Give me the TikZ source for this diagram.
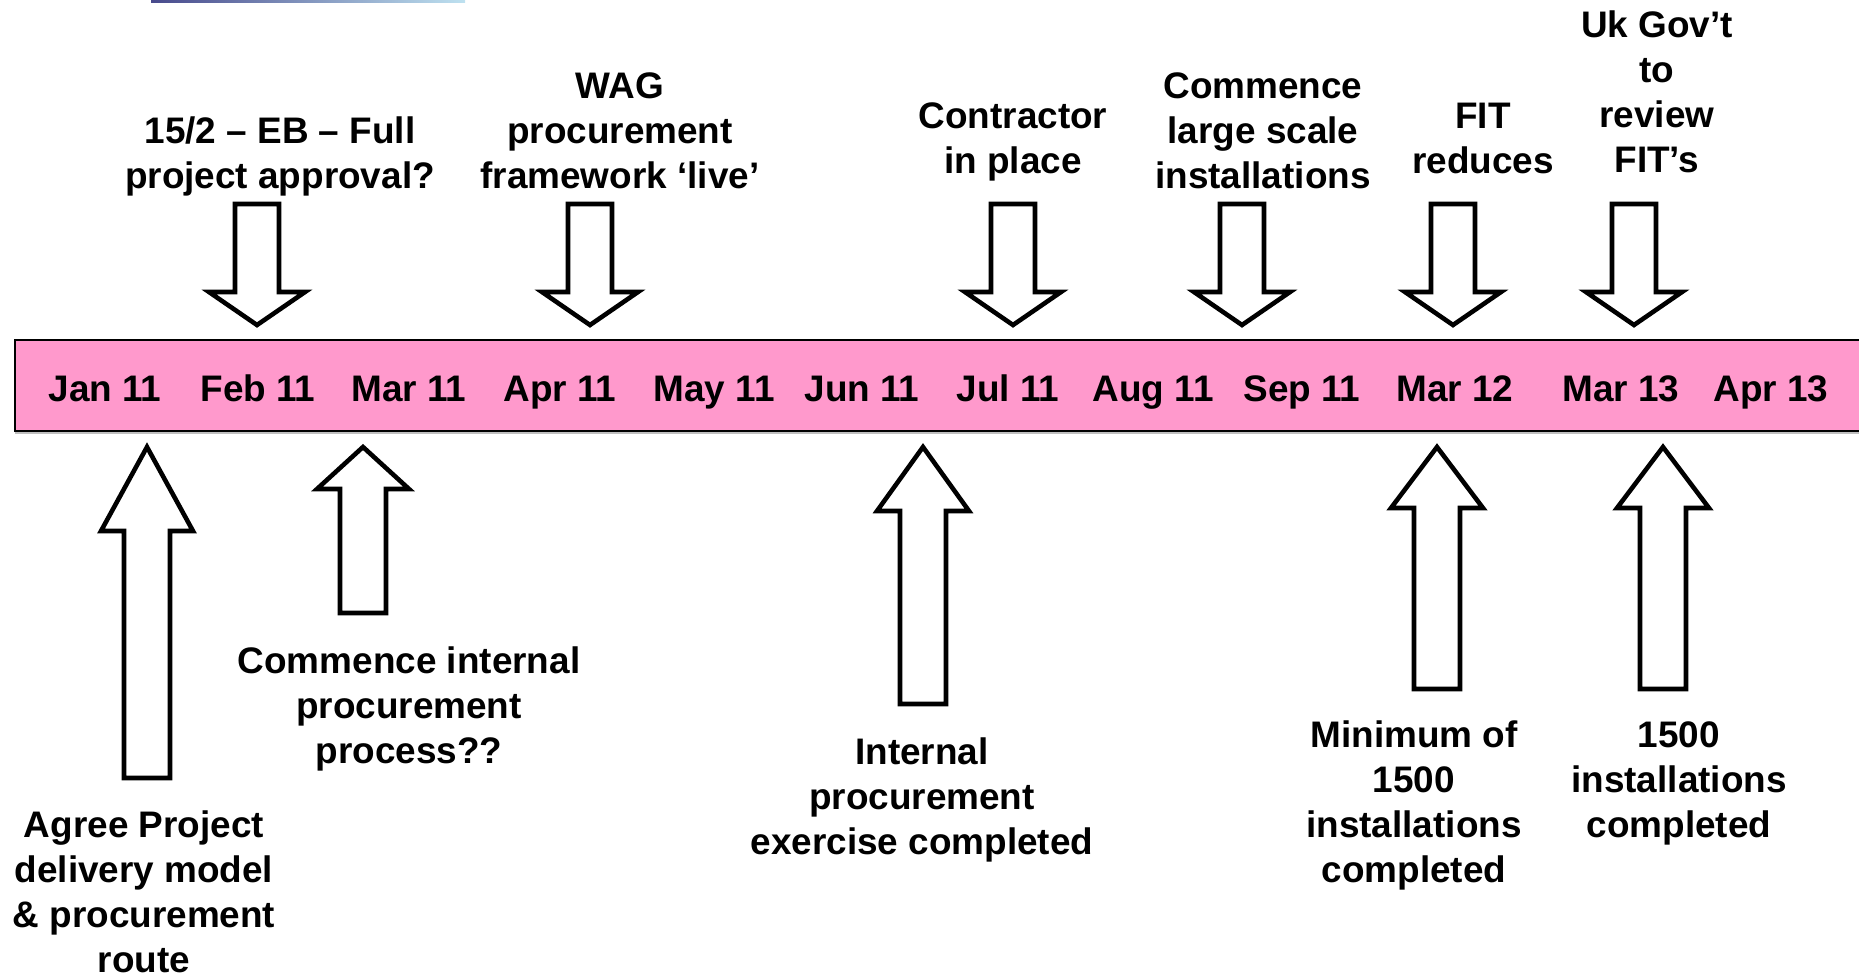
\documentclass[tikz,border=0pt]{standalone}
\usepackage{fontspec}
\setmainfont{Liberation Sans}
\usepackage{tikz}
\definecolor{barPink}{RGB}{255,153,204}
\definecolor{logoNavy}{RGB}{72,74,140}
\definecolor{logoBlue}{RGB}{70,130,200}
\definecolor{logoSky}{RGB}{190,225,240}
\tikzset{
  tlabel/.style={font=\fontsize{10.5pt}{12.72pt}\selectfont\bfseries,
                 align=center, inner sep=0pt, anchor=base},
  month/.style={tlabel},
  blockarrow/.style={draw, line width=1.3pt, fill=white, line join=miter},
}

\begin{document}
\begin{tikzpicture}[x=0.01cm, y=-0.01cm]
  \useasboundingbox (0,0) rectangle (1859,975);
  % logo strip cut off at the top
  \shade[left color=logoNavy, middle color=logoBlue, right color=logoSky]
    (151,0) rectangle (465,2);
  % timeline bar
  \fill[barPink] (15,340) rectangle (1859,431);
  \draw[line width=0.6pt] (1859,340) -- (15,340) -- (15,431) -- (1859,431);
  \draw[gray!50, line width=0.3pt] (15,433) -- (1859,433);
  \foreach \m/\x [count=\i] in {Jan 11/105, Feb 11/258, Mar 11/409,
      Apr 11/560, May 11/714, Jun 11/862, Jul 11/1008, Aug 11/1153,
      Sep 11/1302, Mar 12/1455, Mar 13/1621, Apr 13/1771}
    \node[month] (m\i) at (\x,401) {\m};
  % milestones above the bar
  \foreach \cx in {257,590,1013,1242,1453,1634}
    \draw[blockarrow] ({\cx-22},204) -- ({\cx+22},204) -- ({\cx+22},292)
      -- ({\cx+48},292) -- (\cx,325) -- ({\cx-48},292) -- ({\cx-22},292) -- cycle;
  \node[tlabel] (approval) at (280,188) {15/2 – EB – Full\\project approval?};
  \node[tlabel] (wag) at (620,188) {WAG\\procurement\\framework ‘live’};
  \node[tlabel] (contractor) at (1013,173) {Contractor\\in place};
  \node[tlabel] (largescale) at (1263,188) {Commence\\large scale\\installations};
  \node[tlabel] (fitdown) at (1483,173) {FIT\\reduces};
  \node[tlabel] (ukgov) at (1657,172) {Uk Gov’t\\to\\review\\FIT’s};
  % milestones below the bar
  \foreach \cx/\tip/\base/\bot in {147/447/531/778, 363/447/489/613,
      923/447/511/704, 1437/447/508/689, 1663/447/508/689}
    \draw[blockarrow] ({\cx-23},\bot) -- ({\cx+23},\bot) -- ({\cx+23},\base)
      -- ({\cx+46},\base) -- (\cx,\tip) -- ({\cx-46},\base) -- ({\cx-23},\base) -- cycle;
  \node[tlabel] (agree) at (144,972)
    {Agree Project\\delivery model\\\& procurement\\route};
  \node[tlabel] (internal) at (409,763)
    {Commence internal\\procurement\\process??};
  \node[tlabel] (exercise) at (922,854)
    {Internal\\procurement\\exercise completed};
  \node[tlabel] (minimum) at (1414,882)
    {Minimum of\\1500\\installations\\completed};
  \node[tlabel] (done) at (1679,837) {1500\\installations\\completed};
\end{tikzpicture}
\end{document}
